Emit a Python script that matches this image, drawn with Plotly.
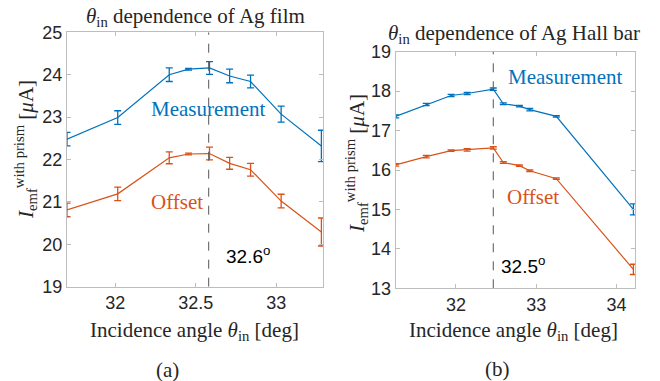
import plotly.graph_objects as go

# ---------------- data ----------------
# (a) Ag film
film_angle = [31.70, 32.015, 32.335, 32.455, 32.585, 32.71, 32.84, 33.03, 33.28]
film_meas = [22.48, 22.99, 24.00, 24.13, 24.16, 23.97, 23.84, 23.07, 22.32]
film_meas_err = [0.16, 0.16, 0.16, 0.02, 0.15, 0.16, 0.15, 0.19, 0.37]
film_off = [20.81, 21.19, 22.04, 22.13, 22.14, 21.91, 21.76, 21.02, 20.29]
film_off_err = [0.16, 0.16, 0.14, 0.02, 0.15, 0.14, 0.15, 0.16, 0.33]
film_peak = 32.58

# (b) Ag Hall bar
hall_angle = [31.25, 31.63, 31.94, 32.14, 32.465, 32.59, 32.79, 32.92, 33.25, 34.21]
hall_meas = [17.36, 17.66, 17.89, 17.94, 18.05, 17.68, 17.62, 17.53, 17.36, 15.00]
hall_meas_err = [0.04, 0.03, 0.03, 0.03, 0.03, 0.02, 0.02, 0.03, 0.02, 0.14]
hall_off = [16.13, 16.34, 16.49, 16.51, 16.56, 16.19, 16.11, 15.98, 15.78, 13.48]
hall_off_err = [0.03, 0.03, 0.02, 0.03, 0.03, 0.02, 0.02, 0.02, 0.02, 0.13]
hall_peak = 32.465

BLUE = "#0072BD"
ORANGE = "#D95319"
W, H = 660, 381

def px(x):
    return x / W

def py(y):
    return 1 - y / H

fig = go.Figure()

def add_series(x, y, e, color, xa, ya):
    fig.add_trace(go.Scatter(
        x=x, y=y, mode="lines", xaxis=xa, yaxis=ya,
        line=dict(color=color, width=1.2),
        error_y=dict(type="data", array=e, visible=True, color=color,
                     thickness=1.3, width=3.5),
        showlegend=False, hoverinfo="skip"))

add_series(film_angle, film_meas, film_meas_err, BLUE, "x", "y")
add_series(film_angle, film_off, film_off_err, ORANGE, "x", "y")
add_series(hall_angle, hall_meas, hall_meas_err, BLUE, "x2", "y2")
add_series(hall_angle, hall_off, hall_off_err, ORANGE, "x2", "y2")

# dashed peak lines
fig.add_trace(go.Scatter(x=[film_peak, film_peak], y=[19, 25], mode="lines",
                         xaxis="x", yaxis="y",
                         line=dict(color="#555555", width=1, dash="dash"),
                         showlegend=False, hoverinfo="skip"))
fig.add_trace(go.Scatter(x=[hall_peak, hall_peak], y=[13, 19], mode="lines",
                         xaxis="x2", yaxis="y2",
                         line=dict(color="#555555", width=1, dash="dash"),
                         showlegend=False, hoverinfo="skip"))

TICKFONT = dict(family="Liberation Sans, Arial, sans-serif", size=18, color="#262626")
SERIF = "Liberation Serif, Times New Roman, serif"
axis_common = dict(showline=True, linecolor="#bdbdbd", linewidth=1, mirror="ticks",
                   ticks="inside", ticklen=4, tickcolor="#bdbdbd", showgrid=False,
                   zeroline=False, tickfont=TICKFONT, automargin=False)

fig.update_layout(
    width=W, height=H, margin=dict(l=0, r=0, t=0, b=0, autoexpand=False),
    plot_bgcolor="white", paper_bgcolor="white",
    xaxis=dict(domain=[px(67), px(323)], range=[31.70, 33.29],
               tickvals=[32, 32.5, 33], ticktext=["32", "32.5", "33"],
               anchor="y", **axis_common),
    yaxis=dict(domain=[py(286.7), py(32.3)], range=[19, 25],
               tickvals=[19, 20, 21, 22, 23, 24, 25], anchor="x", **axis_common),
    xaxis2=dict(domain=[px(395.7), px(635)], range=[31.25, 34.23],
                tickvals=[32, 33, 34], anchor="y2", **axis_common),
    yaxis2=dict(domain=[py(288.3), py(51.7)], range=[13, 19],
                tickvals=[13, 14, 15, 16, 17, 18, 19], anchor="x2", **axis_common),
)

def ann(text, x, y, size, color="#262626", family=SERIF, angle=0, xref="paper", yref="paper"):
    fig.add_annotation(text=text, x=x, y=y, xref=xref, yref=yref, showarrow=False,
                       font=dict(family=family, size=size, color=color),
                       textangle=angle, xanchor="center", yanchor="middle")

# titles
ann("<i>θ</i><sub>in</sub> dependence of Ag film", px(195), py(17), 21)
ann("<i>θ</i><sub>in</sub> dependence of Ag Hall bar", px(514), py(34), 21)
# x labels
ann("Incidence angle <i>θ</i><sub>in</sub> [deg]", px(194), py(331), 21)
ann("Incidence angle <i>θ</i><sub>in</sub> [deg]", px(513), py(331), 21)
# y labels
ylab = "<i>I</i><sub>emf</sub><sup>with prism</sup> [<i>μ</i>A]"
ann(ylab, px(25), py(150), 21, angle=-90)
ann(ylab, px(356), py(164), 21, angle=-90)
# panel labels
ann("(a)", px(168), py(370), 21)
ann("(b)", px(497), py(369), 21)
# in-plot labels
ann("Measurement", px(208), py(109), 21, color=BLUE)
ann("Offset", px(177), py(202), 21, color=ORANGE)
ann("32.6<sup>o</sup>", px(248), py(255), 19, color="#000000",
    family="Liberation Sans, Arial, sans-serif")
ann("Measurement", px(565), py(77), 21, color=BLUE)
ann("Offset", px(533), py(197), 21, color=ORANGE)
ann("32.5<sup>o</sup>", px(523), py(265), 19, color="#000000",
    family="Liberation Sans, Arial, sans-serif")

fig.write_html("out.html", config={"displayModeBar": False},
               post_script="document.body.style.margin='0';document.body.style.overflow='hidden';")
